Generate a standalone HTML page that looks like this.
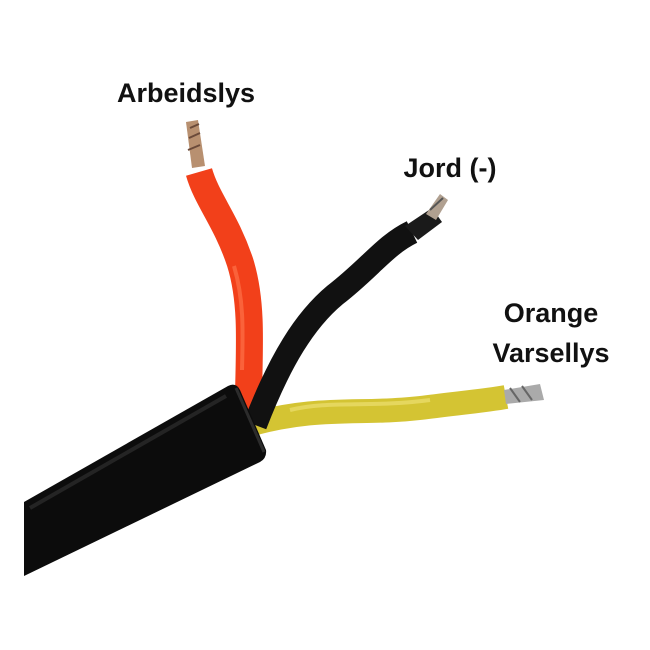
<!DOCTYPE html>
<html><head><style>
html,body{margin:0;padding:0;background:#fff;}
svg{display:block;}
text{font-family:"Liberation Sans",sans-serif;font-weight:bold;fill:#111;}
</style></head><body>
<svg width="650" height="650" viewBox="0 0 650 650" xmlns="http://www.w3.org/2000/svg">
<rect width="650" height="650" fill="#fff"/>
<text x="186" y="102" font-size="27" text-anchor="middle">Arbeidslys</text>
<text x="450" y="177" font-size="27" text-anchor="middle">Jord (-)</text>
<text x="551" y="322" font-size="27" text-anchor="middle">Orange</text>
<text x="551" y="362" font-size="27" text-anchor="middle">Varsellys</text>
<!-- red wire -->
<path d="M248 410 C250 340 252 300 240 262 C226 220 207 200 199 172" fill="none" stroke="#f2401a" stroke-width="27"/>
<path d="M242 370 C243 330 244 300 234 266" fill="none" stroke="#ff7a50" stroke-width="4" opacity="0.6"/>
<path d="M192 168 L186 122 L198 120 L205 166 Z" fill="#b89070"/>
<path d="M188 150 L200 145 M189 138 L200 133 M190 128 L199 124" stroke="#6b4a3a" stroke-width="2"/>
<!-- yellow wire -->
<path d="M248 425 C320 405 360 415 420 408 C460 403 490 400 506 397" fill="none" stroke="#d4c433" stroke-width="24"/>
<path d="M290 410 C330 400 370 408 430 400" fill="none" stroke="#ece070" stroke-width="4" opacity="0.7"/>
<path d="M504 390 L540 384 L544 400 L506 404 Z" fill="#aaa"/>
<path d="M510 388 L520 402 M522 386 L532 400" stroke="#666" stroke-width="2"/>
<!-- black wire -->
<path d="M255 425 C280 360 305 320 335 295 C370 268 385 245 412 232" fill="none" stroke="#111" stroke-width="24"/>
<path d="M405 226 L432 208 L442 222 L418 240 Z" fill="#1a1a1a"/>
<path d="M426 214 L440 194 L448 200 L436 220 Z" fill="#b0a090"/>
<path d="M430 210 L443 198" stroke="#555" stroke-width="2"/>
<!-- main cable -->
<path d="M24 502 L228 386 Q236 382 240 390 L266 450 Q267 458 260 462 L24 576 Z" fill="#0c0c0c"/>
<path d="M236 388 L264 452" stroke="#2c2c2c" stroke-width="3"/>
<path d="M30 508 L226 396" stroke="#242424" stroke-width="4"/>
</svg>
</body></html>
